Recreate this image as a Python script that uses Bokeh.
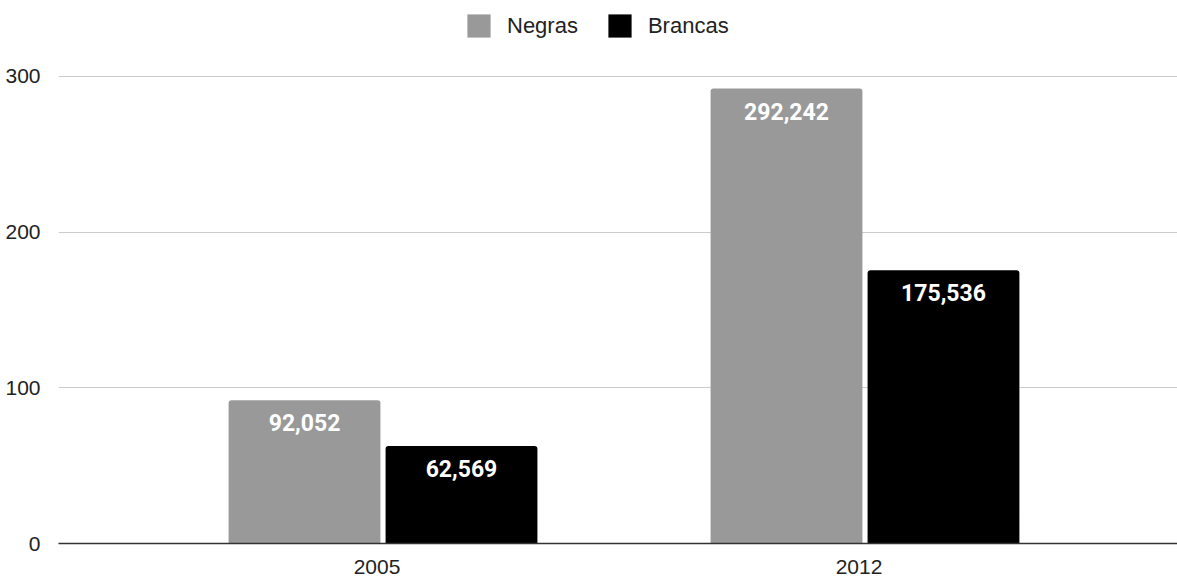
from bokeh.plotting import figure
from bokeh.models import FactorRange, Range1d, Legend, LegendItem, ColumnDataSource, FixedTicker
from bokeh.transform import dodge
from bokeh.core.properties import value
from bokeh.embed import file_html
from bokeh.resources import INLINE

years = ["2005", "2012"]
negras = [92.052, 292.242]
brancas = [62.569, 175.536]
series_names = ["Negras", "Brancas"]
y_ticks = [0, 100, 200, 300]

def fmt(v):
    return f"{v:.3f}".replace(".", ",")

src = ColumnDataSource(dict(
    year=years, negras=negras, brancas=brancas,
    negras_lbl=[fmt(v) for v in negras],
    brancas_lbl=[fmt(v) for v in brancas],
))

p = figure(width=1177, height=577, output_backend="svg", toolbar_location=None,
           x_range=FactorRange(factors=years, range_padding=0.1608),
           y_range=Range1d(0, 348.8),
           min_border_left=58, min_border_right=0, min_border_top=0, min_border_bottom=34)
p.outline_line_color = None
p.background_fill_color = "white"

W = 0.315
off_n = -0.1504
off_b = 0.1753
r1 = p.vbar(x=dodge("year", off_n, range=p.x_range), top="negras", width=W, source=src,
            fill_color="#999999", line_color=None, border_radius=(3, 3, 0, 0))
r2 = p.vbar(x=dodge("year", off_b, range=p.x_range), top="brancas", width=W, source=src,
            fill_color="#000000", line_color=None, border_radius=(3, 3, 0, 0))

for col, lbl, o in (("negras", "negras_lbl", off_n), ("brancas", "brancas_lbl", off_b)):
    p.text(x=dodge("year", o, range=p.x_range), y=col, text=lbl, source=src,
           text_color="white", text_font=value("Roboto"), text_font_style="bold",
           text_font_size="23px", text_align="center", text_baseline="top", y_offset=14)

legend = Legend(items=[LegendItem(label=series_names[0], renderers=[r1]),
                       LegendItem(label=series_names[1], renderers=[r2])],
                orientation="horizontal", location=(406, 503),
                label_text_font="Liberation Sans", label_text_font_size="22px",
                label_text_color="#222222", label_standoff=14, spacing=27,
                glyph_width=29, glyph_height=29, padding=0, margin=0,
                border_line_color=None, background_fill_alpha=0)
p.add_layout(legend, "center")

p.ygrid.grid_line_color = "#cccccc"
p.ygrid.grid_line_width = 1
p.xgrid.grid_line_color = None
p.yaxis.ticker = FixedTicker(ticks=y_ticks)
p.yaxis.axis_line_color = None
p.yaxis.major_tick_line_color = None
p.yaxis.minor_tick_line_color = None
p.yaxis.major_label_standoff = 12
p.yaxis.major_label_text_font = "Liberation Sans"
p.yaxis.major_label_text_font_size = "21px"
p.yaxis.major_label_text_color = "#222222"

p.xaxis.axis_line_color = "#333333"
p.xaxis.axis_line_width = 1.5
p.xaxis.major_tick_line_color = None
p.xaxis.minor_tick_line_color = None
p.xaxis.major_label_standoff = 10
p.xaxis.major_label_text_font = "Liberation Sans"
p.xaxis.major_label_text_font_size = "21px"
p.xaxis.major_label_text_color = "#222222"

open("out.html", "w").write(file_html(p, INLINE))
